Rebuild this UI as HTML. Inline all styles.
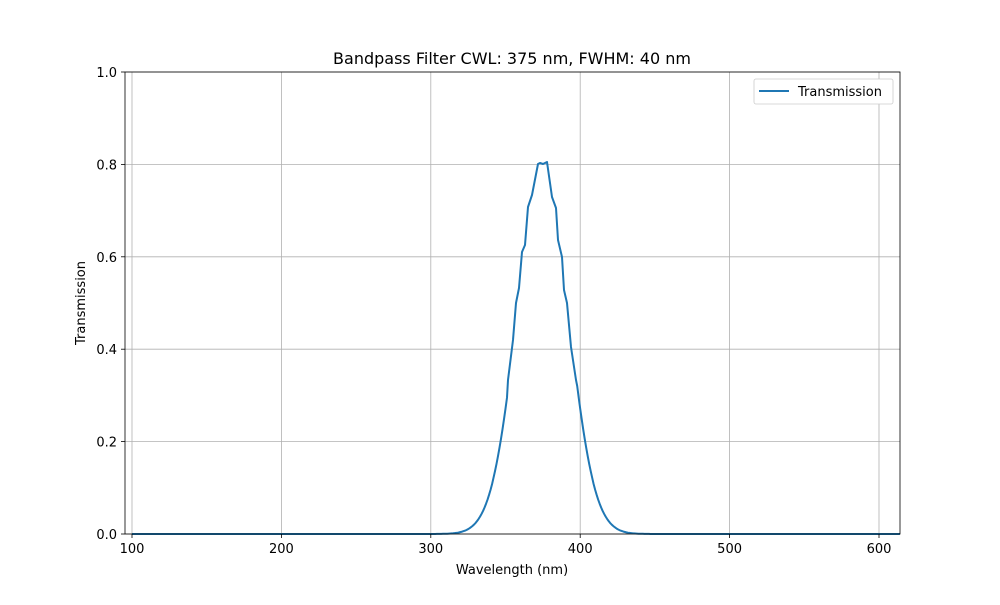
<!DOCTYPE html>
<html><head><meta charset="utf-8"><style>
body{margin:0;background:#fff}
svg text{font-family:"DejaVu Sans","Liberation Sans",sans-serif;fill:#000}
</style></head><body>
<svg id="s" width="1000" height="600" xmlns="http://www.w3.org/2000/svg">
<rect width="1000" height="600" fill="#fff"/>
<g stroke="#b0b0b0" stroke-width="0.8">
<line x1="132" y1="72" x2="132" y2="534"/><line x1="281.4" y1="72" x2="281.4" y2="534"/>
<line x1="430.8" y1="72" x2="430.8" y2="534"/><line x1="580.2" y1="72" x2="580.2" y2="534"/>
<line x1="729.6" y1="72" x2="729.6" y2="534"/><line x1="879" y1="72" x2="879" y2="534"/>
<line x1="125" y1="534" x2="900" y2="534"/><line x1="125" y1="441.6" x2="900" y2="441.6"/>
<line x1="125" y1="349.2" x2="900" y2="349.2"/><line x1="125" y1="256.8" x2="900" y2="256.8"/>
<line x1="125" y1="164.4" x2="900" y2="164.4"/><line x1="125" y1="72" x2="900" y2="72"/>
</g>
<path id="c" fill="none" stroke="#1f77b4" stroke-width="2" stroke-linejoin="round"/>
<rect x="125" y="72" width="775" height="462" fill="none" stroke="#000" stroke-width="0.8"/>
<g stroke="#000" stroke-width="0.8">
<line x1="132" y1="534" x2="132" y2="538"/><line x1="281.4" y1="534" x2="281.4" y2="538"/>
<line x1="430.8" y1="534" x2="430.8" y2="538"/><line x1="580.2" y1="534" x2="580.2" y2="538"/>
<line x1="729.6" y1="534" x2="729.6" y2="538"/><line x1="879" y1="534" x2="879" y2="538"/>
<line x1="121" y1="534" x2="125" y2="534"/><line x1="121" y1="441.6" x2="125" y2="441.6"/>
<line x1="121" y1="349.2" x2="125" y2="349.2"/><line x1="121" y1="256.8" x2="125" y2="256.8"/>
<line x1="121" y1="164.4" x2="125" y2="164.4"/><line x1="121" y1="72" x2="125" y2="72"/>
</g>
<g font-size="13" text-anchor="middle">
<text x="132" y="553">100</text><text x="281.4" y="553">200</text><text x="430.8" y="553">300</text>
<text x="580.2" y="553">400</text><text x="729.6" y="553">500</text><text x="879" y="553">600</text>
</g>
<g font-size="13" text-anchor="end">
<text x="117" y="539">0.0</text><text x="117" y="446.6">0.2</text><text x="117" y="354.2">0.4</text>
<text x="117" y="261.8">0.6</text><text x="117" y="169.4">0.8</text><text x="117" y="77">1.0</text>
</g>
<text x="512" y="574" font-size="13" text-anchor="middle">Wavelength (nm)</text>
<text transform="translate(85,303) rotate(-90)" font-size="13" text-anchor="middle">Transmission</text>
<text x="512" y="64" font-size="16" text-anchor="middle">Bandpass Filter CWL: 375 nm, FWHM: 40 nm</text>
<rect x="754" y="79" width="139" height="25" rx="2" fill="#fff" stroke="#ccc" stroke-width="0.8"/>
<line x1="759" y1="91" x2="789" y2="91" stroke="#1f77b4" stroke-width="2"/>
<text x="798" y="96" font-size="13">Transmission</text>
</svg>
<script>
var X=function(w){return 132+(w-100)*1.494},Y=function(t){return 534-t*462};
var pts=[];
for(var w=100;w<=360;w+=1){var p=[X(w),Y(0.8*Math.exp(-Math.pow(w-375,2)/(2*17*17)))];if(p[0]<508)pts.push(p);}
var mid=[[508,380],[513,340],[516,303],[519,288],[522,252],[525,245],[528,207],[532,195],[538,164],[540,163],[543,164],[547,162],[552,197],[556,208],[558,240],[562,257],[564,290],[567,303],[571,347],[576,380]];
pts=pts.concat(mid);
for(var w=376;w<=614;w+=1){var x=X(w);if(x>576)pts.push([x,Y(0.8*Math.exp(-Math.pow(w-375,2)/(2*17*17)))]);}
document.getElementById('c').setAttribute('d','M'+pts.map(function(p){return p[0].toFixed(1)+','+p[1].toFixed(1)}).join('L'));
</script>
</body></html>
